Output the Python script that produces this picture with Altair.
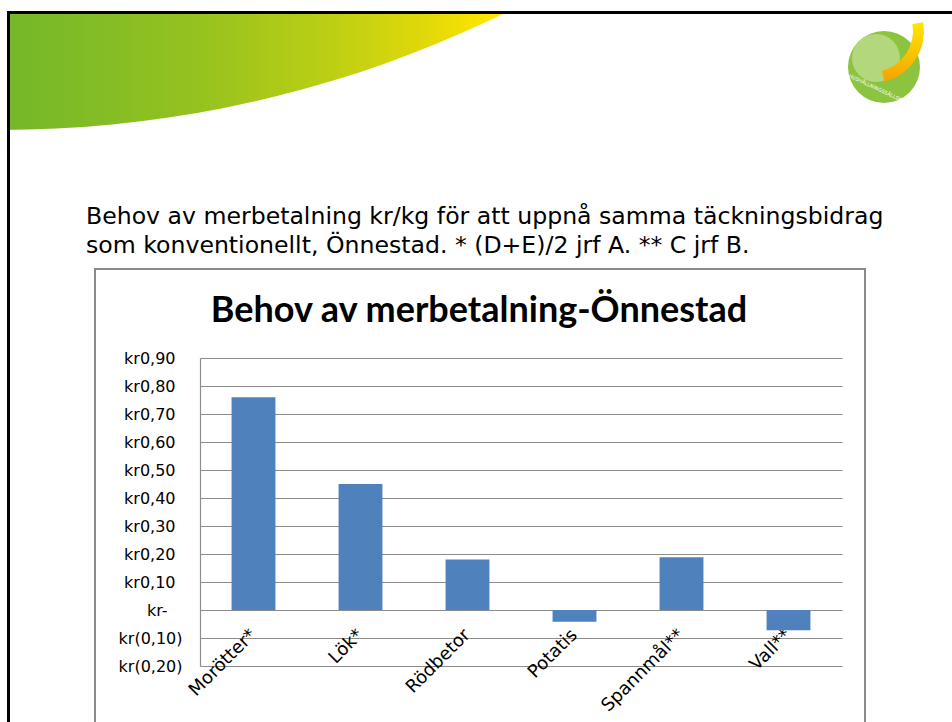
import altair as alt
import pandas as pd

# ---- data ----
crops = ["Morötter*", "Lök*", "Rödbetor", "Potatis", "Spannmål**", "Vall**"]
values = [0.76, 0.45, 0.18, -0.042, 0.188, -0.072]
y_ticks = [-0.2, -0.1, 0.0, 0.1, 0.2, 0.3, 0.4, 0.5, 0.6, 0.7, 0.8, 0.9]
chart_title = "Behov av merbetalning-Önnestad"
slide_line1 = "Behov av merbetalning kr/kg för att uppnå samma täckningsbidrag"
slide_line2 = "som konventionellt, Önnestad. * (D+E)/2 jrf A. ** C jrf B."
logo_text = "HUSHÅLLNINGSSÄLLSKAPET"

OX, OY = 200, 358  # plot origin on the page


def px(x):
    return alt.value(x - OX)


def py(y):
    return alt.value(y - OY)


df = pd.DataFrame({"crop": crops, "value": values})
one = pd.DataFrame({"k": [0]})

label_expr = (
    "abs(datum.value) < 0.0001 ? 'kr-' : "
    "datum.value < 0 ? 'kr(' + replace(format(-datum.value, '.2f'), '.', ',') + ')' : "
    "'kr' + replace(format(datum.value, '.2f'), '.', ',')"
)

y_label_padding = {
    "condition": [
        {"test": "abs(datum.value) < 0.0001", "value": 33},
        {"test": "datum.value > 0", "value": 25},
    ],
    "value": 18,
}

bars = alt.Chart(df).mark_bar(color="#4f81bd").encode(
    x=alt.X(
        "crop:N",
        sort=crops,
        scale=alt.Scale(paddingInner=0.59, paddingOuter=0.295),
        axis=alt.Axis(
            title=None, labelAngle=-45, labelAlign="right", labelBaseline="middle",
            labelPadding=22, offset=-56, domain=False, ticks=False,
            labelFont="DejaVu Sans", labelFontSize=18, labelColor="#000000",
        ),
    ),
    y=alt.Y(
        "value:Q",
        scale=alt.Scale(domain=[-0.2, 0.9], nice=False),
        axis=alt.Axis(
            title=None, values=y_ticks, labelExpr=label_expr, grid=True,
            gridColor="#8c8c8c", gridWidth=1.2, domainColor="#8c8c8c", domainWidth=1.2,
            ticks=False, labelPadding=y_label_padding, labelFont="DejaVu Sans",
            labelFontSize=16, labelColor="#000000",
        ),
    ),
)

base = alt.Chart(one)

# decorative swoosh (large circle, clipped by page edges and white covers)
swoosh = base.mark_arc(
    radius=1148, theta=0, theta2=6.2832,
    fill=alt.Gradient(
        gradient="linear", x1=0, x2=1, y1=0, y2=0,
        stops=[
            alt.GradientStop(offset=0.0, color="#74b72b"),
            alt.GradientStop(offset=0.509, color="#76b82a"),
            alt.GradientStop(offset=0.587, color="#96c21f"),
            alt.GradientStop(offset=0.644, color="#bccf14"),
            alt.GradientStop(offset=0.687, color="#e2d909"),
            alt.GradientStop(offset=0.713, color="#ffe500"),
            alt.GradientStop(offset=1.0, color="#ffe500"),
        ],
    ),
).encode(x=px(0), y=py(-1018))

cover_top = base.mark_rect(color="white").encode(x=px(0), x2=px(952), y=py(0), y2=py(11))
cover_left = base.mark_rect(color="white").encode(x=px(0), x2=px(7), y=py(0), y2=py(722))
border_top = base.mark_rect(color="black").encode(x=px(7), x2=px(952), y=py(11), y2=py(14))
border_left = base.mark_rect(color="black").encode(x=px(7), x2=px(10), y=py(11), y2=py(722))

# logo
logo_circle = base.mark_arc(radius=36, theta=0, theta2=6.2832, color="#8cc43f").encode(
    x=px(884), y=py(67))
logo_inner = base.mark_arc(radius=24, theta=0, theta2=6.2832, color="#b2d77c").encode(
    x=px(876), y=py(58))
logo_leaf = base.mark_arc(
    radius=52, radius2=41, theta=1.4, theta2=2.9,
    fill=alt.Gradient(
        gradient="linear", x1=0, x2=0, y1=0, y2=1,
        stops=[alt.GradientStop(offset=0, color="#ffe800"),
               alt.GradientStop(offset=1, color="#f5a300")],
    ),
).encode(x=px(872), y=py(31))
logo_label = base.mark_text(
    text=logo_text, color="white", fontSize=5, angle=25, font="DejaVu Sans"
).encode(x=px(881), y=py(90))

# slide text
line1 = base.mark_text(
    text=slide_line1, font="DejaVu Sans", fontSize=23.6, align="left", baseline="alphabetic",
    color="#000000").encode(x=px(86), y=py(224))
line2 = base.mark_text(
    text=slide_line2, font="DejaVu Sans", fontSize=23.6, align="left", baseline="alphabetic",
    color="#000000").encode(x=px(86), y=py(253))

# chart frame and title
frame = base.mark_rect(fillOpacity=0, stroke="#898989", strokeWidth=2).encode(
    x=px(95), x2=px(865), y=py(269), y2=py(740))
title = base.mark_text(
    text=chart_title, font="Lato", fontWeight="bold", fontSize=36, align="center",
    baseline="alphabetic", color="#000000").encode(x=px(479), y=py(322))

chart = alt.layer(
    swoosh, cover_top, cover_left, border_top, border_left,
    logo_circle, logo_inner, logo_leaf, logo_label,
    line1, line2, frame, title, bars,
).properties(
    width=642, height=308,
    autosize=alt.AutoSizeParams(type="none"),
    padding={"left": 200, "top": 358, "right": 110, "bottom": 56},
    background="white",
).configure_view(stroke=None)

chart.save("out.html", embed_options={"renderer": "svg", "actions": False})
